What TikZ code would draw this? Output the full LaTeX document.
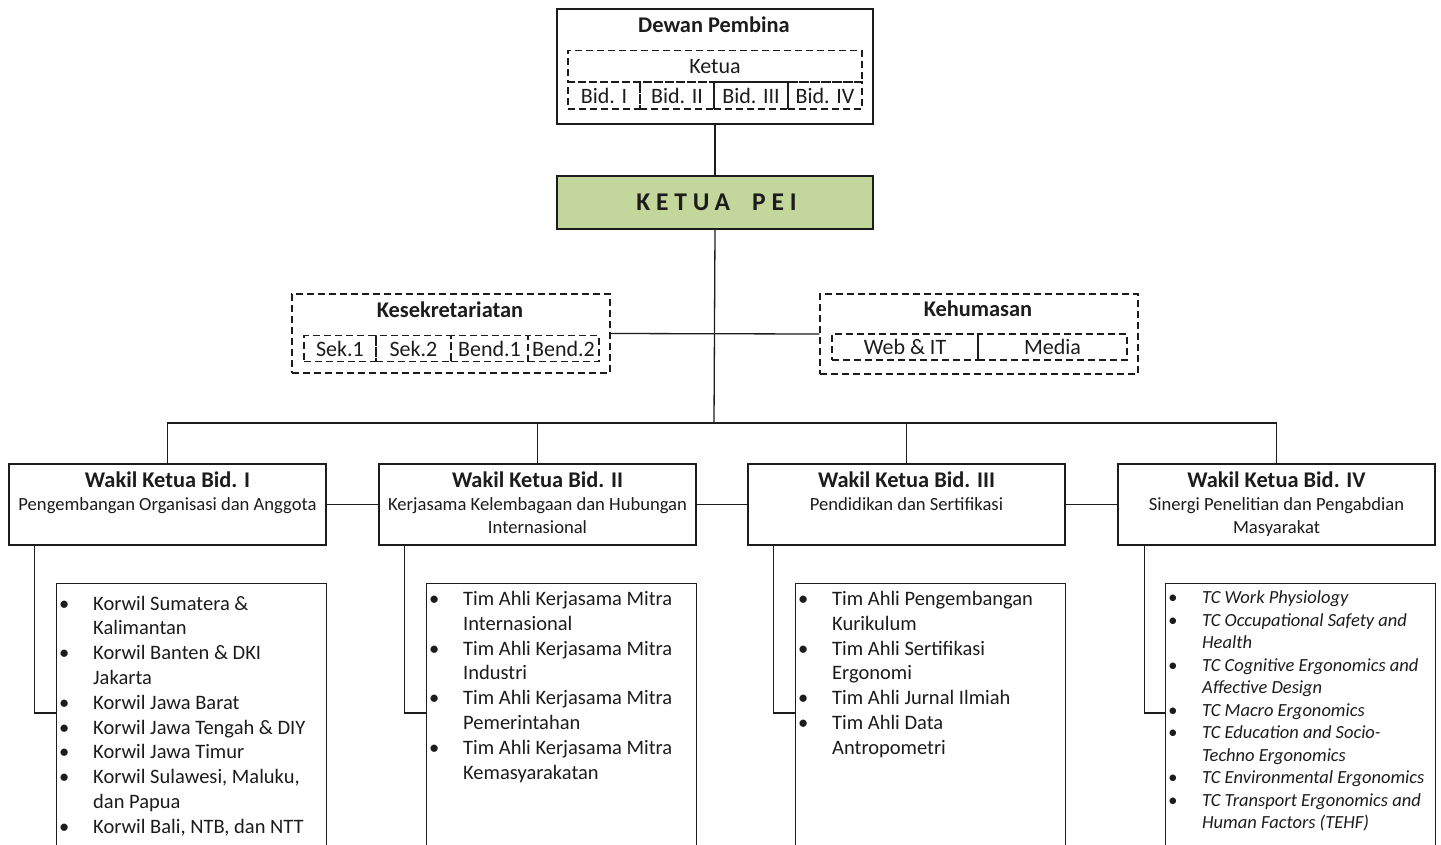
\documentclass[tikz,border=0pt]{standalone}
\usepackage{fontspec}
\setmainfont{Carlito}
\usetikzlibrary{positioning, calc}
\definecolor{Olive}{HTML}{C3D69B}
\definecolor{Ink}{HTML}{1C1C1C}
\setlength{\parskip}{0pt}

% one bullet line of a list box
\newcommand{\listentry}[1]{\par\hangindent=32pt\hangafter=1\noindent\makebox[32pt][l]{\hspace{-2pt}\textbullet}#1\par}

\begin{document}
\begin{tikzpicture}[x=1pt, y=-1pt,
    box/.style={draw=Ink, line width=1.2pt, inner sep=0pt},
    dbox/.style={draw=Ink, line width=1.1pt, dash pattern=on 7pt off 4pt, inner sep=0pt},
    link/.style={draw=Ink, line width=1.3pt},
    head/.style={inner sep=0pt, font=\fontsize{22.4}{26}\selectfont\bfseries},
    cell/.style={dbox, font=\fontsize{22}{26}\selectfont},
    wakil/.style={box, minimum width=317pt, minimum height=81pt},
    wlabel/.style={align=center, inner sep=0pt, anchor=north, yshift=-8.5pt,
        font=\fontsize{18.6}{23}\selectfont},
    listbox/.style={box, anchor=north west, minimum width=270pt, minimum height=300pt},
    items/.style={text width=300pt, align=flush left, inner sep=0pt, anchor=north west,
        font=\fontsize{20.5}{24.8}\selectfont},
    every node/.style={text=Ink}
]
\useasboundingbox (0,0) rectangle (1441,844);
\fill[white] (0,0) rectangle (1441,844);

% top
\node[box, minimum width=316pt, minimum height=115pt] (dewan) at (715,66.5) {};
\node[head] (dewantitle) at (714,25) {Dewan Pembina};
\node[cell, minimum width=294pt, minimum height=31.3pt] (ketua) at (715,66.3) {Ketua};
\node[cell, minimum width=72pt, minimum height=27pt] (bid1) at (604,95.5) {Bid. I};
\node[cell, minimum width=74pt, minimum height=27pt] (bid2) at (677,95.5) {Bid. II};
\node[cell, minimum width=74pt, minimum height=27pt] (bid3) at (751,95.5) {Bid. III};
\node[cell, minimum width=74pt, minimum height=27pt] (bid4) at (825,95.5) {Bid. IV};

\node[box, fill=Olive, minimum width=316pt, minimum height=53pt,
    font=\fontsize{25.5}{28}\selectfont\bfseries\addfontfeatures{LetterSpace=23}]
    (pei) at (715,202.5) {\hspace{3pt}KETUA\hspace{22pt}PEI};

% staff
\node[dbox, minimum width=318pt, minimum height=79pt] (sekr) at (451,333.5) {};
\node[head] (sekrtitle) at (450,310) {Kesekretariatan};
\node[cell, minimum width=72pt, minimum height=26pt] (sek1) at (340,348.7) {Sek.1};
\node[cell, minimum width=75pt, minimum height=26pt] (sek2) at (413.5,348.7) {Sek.2};
\node[cell, minimum width=77pt, minimum height=26pt] (bend1) at (489.5,348.7) {Bend.1};
\node[cell, minimum width=71pt, minimum height=26pt] (bend2) at (563.5,348.7) {Bend.2};

\node[dbox, minimum width=318pt, minimum height=80pt] (humas) at (979,334) {};
\node[head] (humastitle) at (978,309) {Kehumasan};
\node[cell, minimum width=146pt, minimum height=26pt] (web) at (905,347) {Web \& IT};
\node[cell, minimum width=149pt, minimum height=26pt] (media) at (1052.5,347) {Media};

% vice chairs
\node[wakil] (w1) at (167.5,504.5) {};
\node[wakil] (w2) at (537.5,504.5) {};
\node[wakil] (w3) at (906.5,504.5) {};
\node[wakil] (w4) at (1276.5,504.5) {};
\node[wlabel] (w1label) at (w1.north) {{\fontsize{22.4}{23}\selectfont\bfseries Wakil Ketua Bid. I}\\Pengembangan Organisasi dan Anggota};
\node[wlabel] (w2label) at (w2.north) {{\fontsize{22.4}{23}\selectfont\bfseries Wakil Ketua Bid. II}\\Kerjasama Kelembagaan dan Hubungan\\Internasional};
\node[wlabel] (w3label) at (w3.north) {{\fontsize{22.4}{23}\selectfont\bfseries Wakil Ketua Bid. III}\\Pendidikan dan Sertifikasi};
\node[wlabel] (w4label) at (w4.north) {{\fontsize{22.4}{23}\selectfont\bfseries Wakil Ketua Bid. IV}\\Sinergi Penelitian dan Pengabdian\\Masyarakat};

% lists
\node[listbox] (l1) at (56,583) {};
\node[listbox] (l2) at (426,583) {};
\node[listbox] (l3) at (795,583) {};
\node[listbox] (l4) at (1165,583) {};

\node[items] (l1items) at ([xshift=5pt, yshift=-2pt]l1.north west) {
    \listentry{Korwil Sumatera \&\newline Kalimantan}
    \listentry{Korwil Banten \& DKI\newline Jakarta}
    \listentry{Korwil Jawa Barat}
    \listentry{Korwil Jawa Tengah \& DIY}
    \listentry{Korwil Jawa Timur}
    \listentry{Korwil Sulawesi, Maluku,\newline dan Papua}
    \listentry{Korwil Bali, NTB, dan NTT}};
\node[items] (l2items) at ([xshift=5pt, yshift=2.5pt]l2.north west) {
    \listentry{Tim Ahli Kerjasama Mitra\newline Internasional}
    \listentry{Tim Ahli Kerjasama Mitra\newline Industri}
    \listentry{Tim Ahli Kerjasama Mitra\newline Pemerintahan}
    \listentry{Tim Ahli Kerjasama Mitra\newline Kemasyarakatan}};
\node[items] (l3items) at ([xshift=5pt, yshift=2.5pt]l3.north west) {
    \listentry{Tim Ahli Pengembangan\newline Kurikulum}
    \listentry{Tim Ahli Sertifikasi\newline Ergonomi}
    \listentry{Tim Ahli Jurnal Ilmiah}
    \listentry{Tim Ahli Data\newline Antropometri}};
\node[items, font=\fontsize{18.5}{22.5}\selectfont\itshape] (l4items)
    at ([xshift=5pt, yshift=2pt]l4.north west) {
    \listentry{TC Work Physiology}
    \listentry{TC Occupational Safety and\newline Health}
    \listentry{TC Cognitive Ergonomics and\newline Affective Design}
    \listentry{TC Macro Ergonomics}
    \listentry{TC Education and Socio-\newline Techno Ergonomics}
    \listentry{TC Environmental Ergonomics}
    \listentry{TC Transport Ergonomics and\newline Human Factors (TEHF)}};

% connectors
\coordinate (bus) at (714,423);
\draw[link] (dewan.south) -- (pei.north);
\draw[link] (pei.south) -- (bus);
\draw[link] (sekr.east) -- (humas.west);
\draw[link] (w1.north) |- (bus) -| (w4.north);
\draw[link] (w2.north) -- (w2.north |- bus);
\draw[link] (w3.north) -- (w3.north |- bus);
\draw[link] (w1.east) -- (w2.west);
\draw[link] (w2.east) -- (w3.west);
\draw[link] (w3.east) -- (w4.west);
\draw[link] ([xshift=26pt]w1.south west) |- ([yshift=-130pt]l1.north west);
\draw[link] ([xshift=26pt]w2.south west) |- ([yshift=-130pt]l2.north west);
\draw[link] ([xshift=26pt]w3.south west) |- ([yshift=-130pt]l3.north west);
\draw[link] ([xshift=27pt]w4.south west) |- ([yshift=-130pt]l4.north west);

\end{tikzpicture}
\end{document}
